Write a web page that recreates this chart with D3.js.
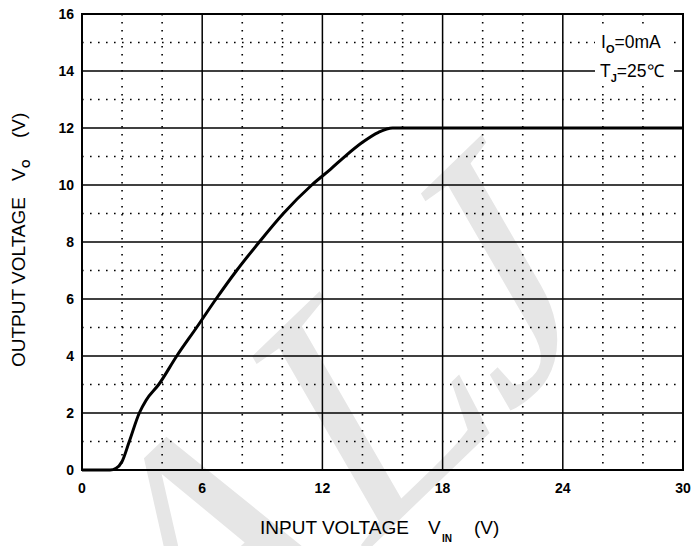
<!DOCTYPE html>
<html>
<head>
<meta charset="utf-8">
<script src="https://cdn.jsdelivr.net/npm/d3@7"></script>
<style>
  body { margin: 0; background: #fff; }
  svg { display: block; font-family: "Liberation Sans", Arial, sans-serif; }
</style>
</head>
<body>
<script>
const WIDTH = 692;
const HEIGHT = 546;
const margin = { top: 14, right: 9, bottom: 76, left: 82 };

// curve: input voltage (V) -> output voltage (V)
const vin  = [0, 1.4, 1.7, 2.0, 2.36, 2.86, 3.2, 3.83, 4.73, 5.72, 6.69, 7.72, 8.85, 10.05, 11.47, 12.4, 13.2, 14.0, 14.8, 15.5, 30];
const vout = [0, 0, 0.06, 0.3, 1.0, 2.0, 2.45, 3.0, 4.0, 5.0, 6.0, 7.0, 8.0, 9.0, 10.0, 10.55, 11.05, 11.5, 11.85, 12.0, 12.0];

const xTicks = [0, 6, 12, 18, 24, 30];
const yTicks = [0, 2, 4, 6, 8, 10, 12, 14, 16];
const xMinor = d3.range(0, 31, 2);
const yMinor = d3.range(0, 17, 1);

const svg = d3.select("body")
              .append("svg")
              .attr("width", WIDTH)
              .attr("height", HEIGHT);

const x = d3.scaleLinear().domain([0, 30]).range([margin.left, WIDTH - margin.right]);
const y = d3.scaleLinear().domain([0, 16]).range([HEIGHT - margin.bottom, margin.top]);

// watermark
svg.append("text")
   .attr("transform", "translate(184,728) rotate(-44) skewX(-14)")
   .attr("font-family", "Liberation Serif, serif")
   .attr("font-size", 336)
   .attr("fill", "#e6e6e6")
   .text("ALJ");

// dotted minor grid
const grid = svg.append("g");
grid.selectAll(".vminor")
    .data(xMinor.filter(d => d % 6 !== 0))
    .join("line")
    .attr("x1", d => x(d)).attr("x2", d => x(d))
    .attr("y1", y(16)).attr("y2", y(0))
    .attr("stroke", "#000").attr("stroke-width", 1.6)
    .attr("stroke-dasharray", "1.6,6.4");
grid.selectAll(".hminor")
    .data(yMinor.filter(d => d % 2 !== 0))
    .join("line")
    .attr("x1", x(0)).attr("x2", x(30))
    .attr("y1", d => y(d)).attr("y2", d => y(d))
    .attr("stroke", "#000").attr("stroke-width", 1.6)
    .attr("stroke-dasharray", "1.6,6.4");

// solid major grid
grid.selectAll(".vmajor")
    .data(xTicks)
    .join("line")
    .attr("x1", d => x(d)).attr("x2", d => x(d))
    .attr("y1", y(16)).attr("y2", y(0))
    .attr("stroke", "#000").attr("stroke-width", 1.5);
grid.selectAll(".hmajor")
    .data(yTicks)
    .join("line")
    .attr("x1", x(0)).attr("x2", x(30))
    .attr("y1", d => y(d)).attr("y2", d => y(d))
    .attr("stroke", "#000").attr("stroke-width", 1.5);

svg.append("rect")
   .attr("x", x(0)).attr("y", y(16))
   .attr("width", x(30) - x(0)).attr("height", y(0) - y(16))
   .attr("fill", "none").attr("stroke", "#000").attr("stroke-width", 2);

// tick labels
svg.append("g")
   .selectAll("text")
   .data(xTicks)
   .join("text")
   .attr("x", d => x(d))
   .attr("y", y(0) + 23)
   .attr("text-anchor", "middle")
   .attr("font-size", 14)
   .attr("font-weight", "bold")
   .text(d => d);

svg.append("g")
   .selectAll("text")
   .data(yTicks)
   .join("text")
   .attr("x", x(0) - 8)
   .attr("y", d => y(d) + 5)
   .attr("text-anchor", "end")
   .attr("font-size", 14)
   .attr("font-weight", "bold")
   .text(d => d);

// curve
const line = d3.line()
               .x(d => x(d[0]))
               .y(d => y(d[1]))
               .curve(d3.curveMonotoneX);
svg.append("path")
   .datum(d3.zip(vin, vout))
   .attr("d", line)
   .attr("fill", "none")
   .attr("stroke", "#000")
   .attr("stroke-width", 3)
   .attr("stroke-linejoin", "round");

// condition box
const cond = svg.append("g").attr("font-size", 17.5);
cond.append("rect")
    .attr("x", 595).attr("y", 30).attr("width", 79).attr("height", 52)
    .attr("fill", "#fff");
const t1 = cond.append("text").attr("x", 601).attr("y", 48);
t1.append("tspan").text("I");
t1.append("tspan").attr("font-size", 11).attr("font-weight", "bold").attr("dy", 5).text("O");
t1.append("tspan").attr("dy", -5).text("=0mA");
const t2 = cond.append("text").attr("x", 600).attr("y", 77);
t2.append("tspan").text("T");
t2.append("tspan").attr("font-size", 11).attr("font-weight", "bold").attr("dy", 5).text("J");
t2.append("tspan").attr("dy", -5).text("=25\u2103");

// axis titles
const xt = svg.append("text")
              .attr("y", 534)
              .attr("font-size", 19);
xt.append("tspan").attr("x", 260).text("INPUT VOLTAGE");
xt.append("tspan").attr("x", 428).text("V");
xt.append("tspan").attr("x", 442).attr("dy", 8).attr("font-size", 10).attr("font-weight", "bold").text("IN");
xt.append("tspan").attr("x", 474).attr("dy", -8).text("(V)");

const yt = svg.append("text")
              .attr("transform", "translate(25,0) rotate(-90)")
              .attr("font-size", 19);
yt.append("tspan").attr("x", -367).text("OUTPUT VOLTAGE");
yt.append("tspan").attr("x", -181).text("V");
yt.append("tspan").attr("x", -168).attr("dy", 5).attr("font-size", 11).attr("font-weight", "bold").text("O");
yt.append("tspan").attr("x", -138).attr("dy", -5).text("(V)");
</script>
</body>
</html>
